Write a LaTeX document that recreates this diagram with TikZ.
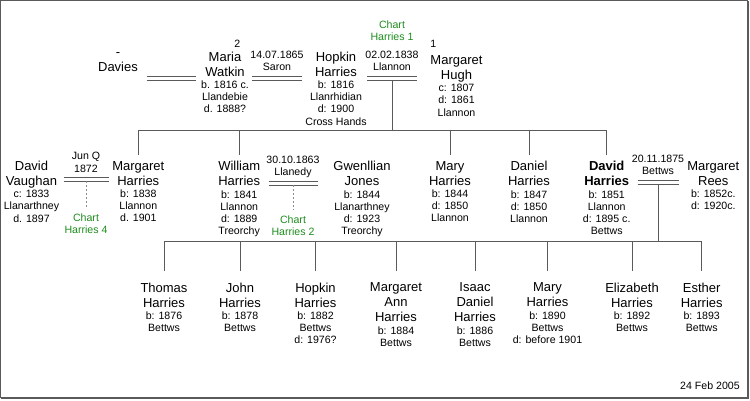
\documentclass[tikz,border=0pt]{standalone}
\usepackage{fontspec}
\setmainfont{Liberation Sans}

\definecolor{lin}{HTML}{5A5A5A}
\definecolor{chartgreen}{HTML}{1E8C1E}
\newcommand\namefont{\fontsize{13}{15}\selectfont}
\newcommand\infofont{\fontsize{10.6}{12.2}\selectfont}

\tikzstyle{info}=[align=center,font=\infofont,inner sep=0pt]
\tikzstyle{pers}=[align=center,font=\namefont,inner sep=0pt,anchor=north,text depth=3pt]
\tikzstyle{wed}=[info,anchor=south,inner ysep=7pt,text depth=0pt]
\tikzstyle{chart}=[info,text=chartgreen]
\tikzstyle{tree}=[draw=lin,line width=0.9pt]
\tikzstyle{dbl}=[draw=lin,line width=0.9pt]
\tikzstyle{dots}=[draw=lin!70,line width=0.9pt,dash pattern=on 2pt off 2pt]
\tikzstyle{frame}=[draw=lin,line width=1pt]

\begin{document}
\begin{tikzpicture}[x=1pt,y=-1pt,every label/.style={info},label distance=1.3pt]
  \useasboundingbox (0,0) rectangle (750,400);
  \path[frame] (0.5,0.5) rectangle (747.5,397.5);
  \path[frame] (748.5,1) -- (748.5,398.5) -- (1,398.5);

  % parents
  \node[pers] (davies) at (118,52) {-\\Davies};
  \node[pers,label=below:{b. 1816 c.\\Llandebie\\d. 1888?}] (maria) at (225,51.5) {Maria\\Watkin};
  \node[pers,label=below:{b: 1816\\Llanrhidian\\d: 1900\\Cross Hands}] (hopkin) at (336,51.5) {Hopkin\\Harries};
  \node[pers,label=below:{c: 1807\\d: 1861\\Llannon}] (mhugh) at (456.5,55.5) {Margaret\\Hugh};
  \node[info] (no2) at (237.3,43.3) {2};
  \node[info] (no1) at (433.3,44.3) {1};

  \coordinate (w0) at (171,78);
  \node[wed] (m1865) at (277,78) {14.07.1865\\Saron};
  \node[wed] (m1838) at (392,78) {02.02.1838\\Llannon};
  \node[chart] (chart1) at (392,30.8) {Chart\\Harries 1};

  % children of Hopkin and Margaret
  \node[pers,label=below:{c: 1833\\Llanarthney\\d. 1897}] (dvaughan) at (31.5,161) {David\\Vaughan};
  \node[pers,label=below:{b: 1838\\Llannon\\d. 1901}] (mharries) at (138.3,161) {Margaret\\Harries};
  \node[pers,label=below:{b: 1841\\Llannon\\d: 1889\\Treorchy}] (wharries) at (239.2,161) {William\\Harries};
  \node[pers,label=below:{b: 1844\\Llanarthney\\d: 1923\\Treorchy}] (gjones) at (362,161) {Gwenllian\\Jones};
  \node[pers,label=below:{b: 1844\\d: 1850\\Llannon}] (maryh) at (450,161) {Mary\\Harries};
  \node[pers,label=below:{b: 1847\\d: 1850\\Llannon}] (danielh) at (529,161) {Daniel\\Harries};
  \node[pers,font=\namefont\bfseries,label=below:{b: 1851\\Llannon\\d: 1895 c.\\Bettws}] (dharries) at (606.7,161) {David\\Harries};
  \node[pers,label=below:{b: 1852c.\\d: 1920c.}] (mrees) at (713.3,161) {Margaret\\Rees};

  \node[wed] (m1872) at (86,179.3) {Jun Q\\1872};
  \node[chart] (chart4) at (86,223.8) {Chart\\Harries 4};
  \node[wed] (m1863) at (293,183) {30.10.1863\\Llanedy};
  \node[chart] (chart2) at (293,225.4) {Chart\\Harries 2};
  \node[wed] (m1875) at (658,182) {20.11.1875\\Bettws};

  % children of David and Margaret
  \node[pers,label=below:{b: 1876\\Bettws}] (thomas) at (164,282.5) {Thomas\\Harries};
  \node[pers,label=below:{b: 1878\\Bettws}] (john) at (240,282.5) {John\\Harries};
  \node[pers,label=below:{b: 1882\\Bettws\\d: 1976?}] (hopkin2) at (315.5,282.5) {Hopkin\\Harries};
  \node[pers,label=below:{b: 1884\\Bettws}] (margann) at (396,282.5) {Margaret\\Ann\\Harries};
  \node[pers,label=below:{b: 1886\\Bettws}] (isaac) at (475,282.5) {Isaac\\Daniel\\Harries};
  \node[pers,label=below:{b: 1890\\Bettws\\d: before 1901}] (mary2) at (547.5,282.5) {Mary\\Harries};
  \node[pers,label=below:{b: 1892\\Bettws}] (eliz) at (632,282.5) {Elizabeth\\Harries};
  \node[pers,label=below:{b: 1893\\Bettws}] (esther) at (701.7,282.5) {Esther\\Harries};

  \node[info] (date) at (710,385.7) {24 Feb 2005};

  \coordinate (bus1) at (392,130);
  \coordinate (bus2) at (658,241);

  % marriages
  \foreach \m/\w in {w0/24.5pt,m1865.south/25pt,m1838.south/25pt,m1872.south/22.5pt,m1863.south/24.5pt,m1875.south/20.5pt}{
    \path ([xshift=-\w,yshift=2pt]\m) edge [dbl] ([xshift=\w,yshift=2pt]\m);
    \path ([xshift=-\w,yshift=-2pt]\m) edge [dbl] ([xshift=\w,yshift=-2pt]\m);
  }

  \path ([yshift=-2pt]m1872.south) edge [dots] ([yshift=6pt]chart4.north);
  \path ([yshift=-2pt]m1863.south) edge [dots] ([yshift=6pt]chart2.north);

  % descent
  \path ([yshift=-2pt]m1838.south) edge [tree] (bus1);
  \path (bus1 -| mharries) edge [tree] (bus1 -| dharries);
  \foreach \c in {mharries,wharries,maryh,danielh,dharries}
    \path (bus1 -| \c) edge [tree] ([yshift=6pt]\c.north);

  \path ([yshift=-2pt]m1875.south) edge [tree] (bus2);
  \path (bus2 -| thomas) edge [tree] (bus2 -| esther);
  \foreach \c in {thomas,john,hopkin2,margann,isaac,mary2,eliz,esther}
    \path (bus2 -| \c) edge [tree] ([yshift=11.5pt]\c.north);
\end{tikzpicture}
\end{document}
